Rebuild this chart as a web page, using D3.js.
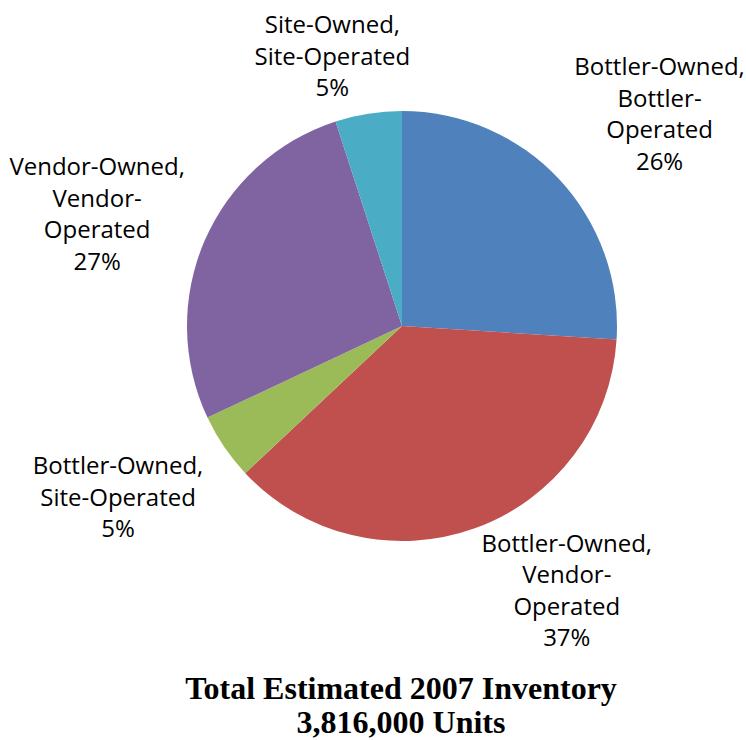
<!DOCTYPE html>
<meta charset="utf-8">
<style>
body { margin: 0; background: #fff; }
.lbl { font-family: "Open Sans", sans-serif; font-size: 24px; fill: #000; }
.title { font-family: "Liberation Serif", "Times New Roman", serif; font-weight: bold; font-size: 32px; fill: #000; }
</style>
<body>
<svg width="746" height="740"></svg>
<script src="https://d3js.org/d3.v7.min.js"></script>
<script>

// slice data, clockwise from 12 o'clock
var categories = [
  ["Bottler-Owned,", "Bottler-", "Operated"],
  ["Bottler-Owned,", "Vendor-", "Operated"],
  ["Bottler-Owned,", "Site-Operated"],
  ["Vendor-Owned,", "Vendor-", "Operated"],
  ["Site-Owned,", "Site-Operated"]
];
var shares = [26, 37, 5, 27, 5];
var colors = ["#4F81BD", "#C0504D", "#9BBB59", "#8064A2", "#4BACC6"];
var titleLines = ["Total Estimated 2007 Inventory", "3,816,000 Units"];

// label tweaks (excel moved them a bit)
var labelNudge = [[17, 13], [53, -47], [-11, -15], [-2, 18], [-18, 55]];

var svg = d3.select("svg");
var cx = 402, cy = 326, r = 215, labelR = 330, lh = 31.5;

var pie = d3.pie().sort(null).value(function(d) { return d; });
var arc = d3.arc().innerRadius(0).outerRadius(r);
var arcs = pie(shares);

var g = svg.append("g").attr("transform", "translate(" + cx + "," + cy + ")");

g.selectAll("path")
  .data(arcs)
  .enter().append("path")
    .attr("d", arc)
    .attr("fill", function(d, i) { return colors[i]; });

var labels = g.selectAll("text.lbl")
  .data(arcs)
  .enter().append("text")
    .attr("class", "lbl")
    .attr("text-anchor", "middle")
    .attr("transform", function(d, i) {
      var a = (d.startAngle + d.endAngle) / 2;
      var x = Math.sin(a) * labelR + labelNudge[i][0];
      var y = -Math.cos(a) * labelR + labelNudge[i][1];
      return "translate(" + x + "," + y + ")";
    });

labels.each(function(d, i) {
  var lines = categories[i].concat([shares[i] + "%"]);
  var n = lines.length;
  d3.select(this).selectAll("tspan")
    .data(lines)
    .enter().append("tspan")
      .attr("x", 0)
      .attr("y", function(t, j) { return (j - (n - 1) / 2) * lh; })
      .attr("dominant-baseline", "central")
      .text(function(t) { return t; });
});

svg.append("text")
  .attr("class", "title")
  .attr("text-anchor", "middle")
  .selectAll("tspan")
  .data(titleLines)
  .enter().append("tspan")
    .attr("x", 401)
    .attr("y", function(t, j) { return 688 + j * 34; })
    .attr("dominant-baseline", "central")
    .text(function(t) { return t; });

</script>
</body>
